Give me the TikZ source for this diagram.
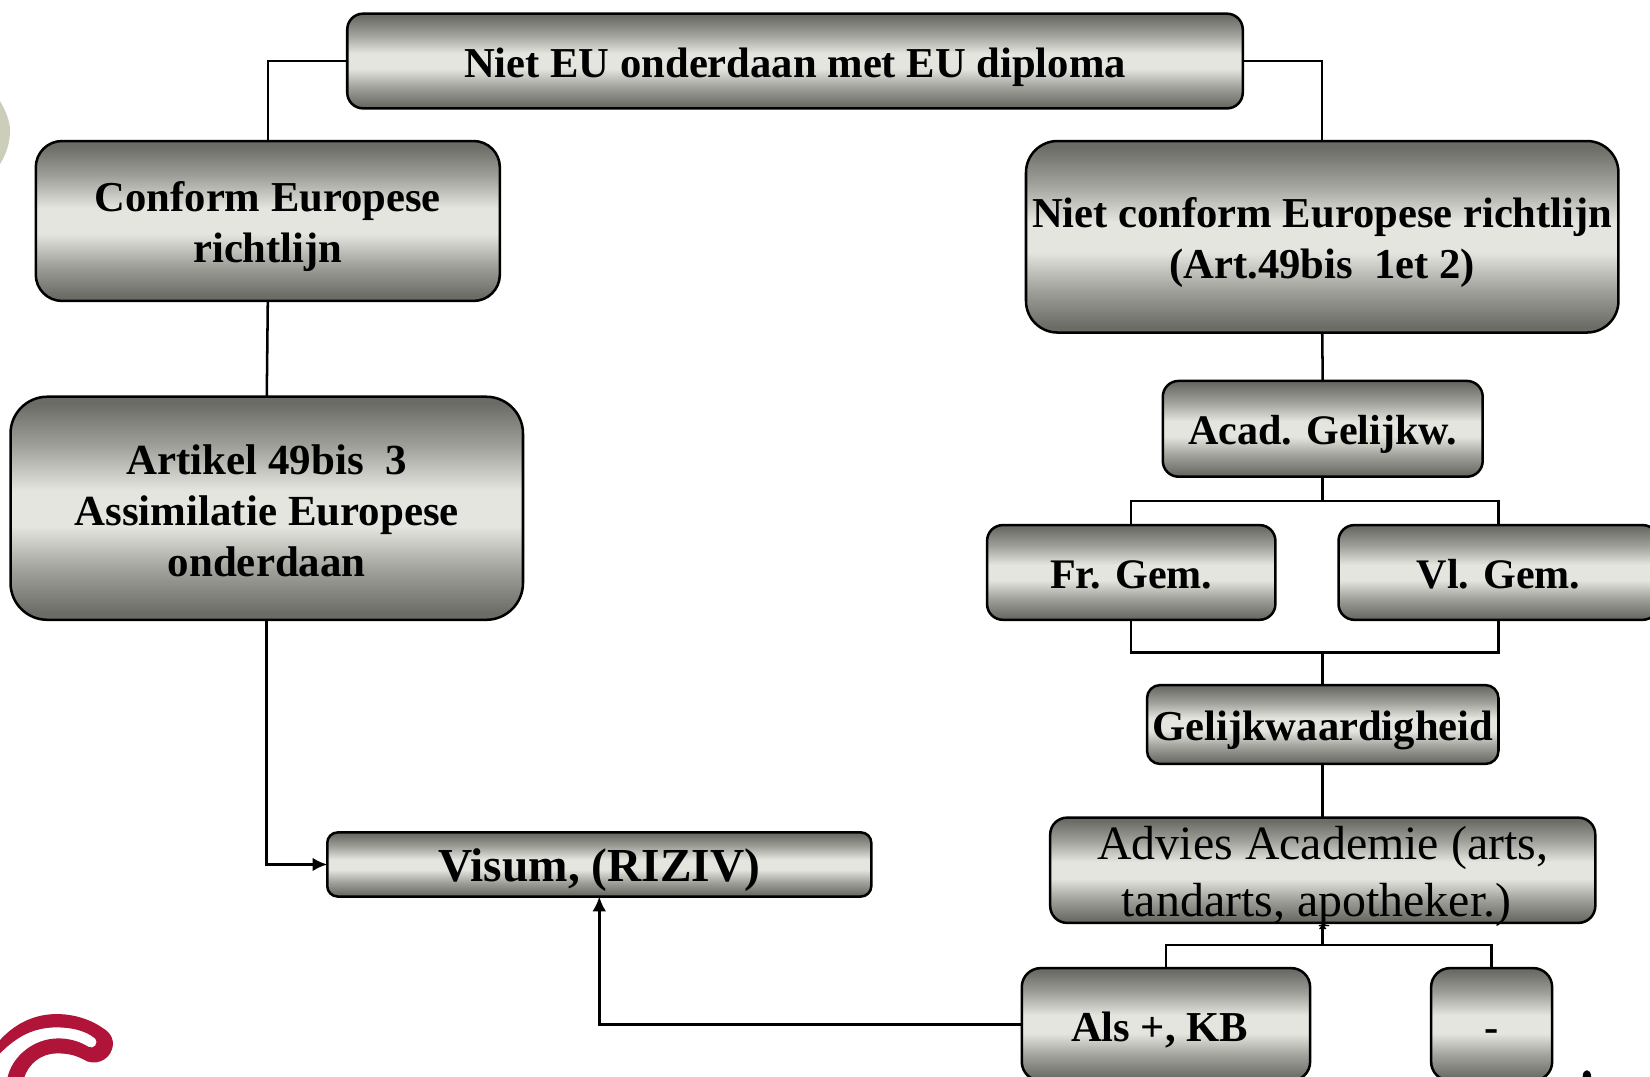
\documentclass[tikz,border=0pt]{standalone}
\usepackage{fontspec}
\setmainfont{Liberation Serif}
\usetikzlibrary{arrows.meta}
\definecolor{metalD}{RGB}{108,108,102}
\definecolor{metalM}{RGB}{160,160,154}
\definecolor{metalL}{RGB}{228,229,222}
\definecolor{logoRed}{RGB}{176,20,56}
\definecolor{logoGrey}{RGB}{205,205,188}
\pgfdeclareverticalshading{metal}{100bp}{
  color(0bp)=(metalD); color(26.5bp)=(metalD); color(36bp)=(metalM);
  color(46bp)=(metalL); color(54bp)=(metalL); color(64bp)=(metalM);
  color(73.5bp)=(metalD); color(100bp)=(metalD)}
\newcommand{\boxtext}[2]{\raisebox{-#1}[0pt][0pt]{\begin{tabular}[t]{@{}c@{}}#2\end{tabular}}}
\tikzset{
  x=1pt, y=-1pt,
  flowbox/.style n args={3}{shade, shading=metal, draw=black, line width=2.4pt,
    rectangle, rounded corners=#3, minimum width=#1, minimum height=#2,
    inner sep=0pt, outer sep=0pt, text=black},
  boldtxt/.style={font=\fontsize{40.5}{48.5}\selectfont\bfseries},
  shorttxt/.style={font=\fontsize{40}{48.5}\selectfont\bfseries},
  artxt/.style={font=\fontsize{40.8}{48.5}\selectfont\bfseries},
  plaintxt/.style={font=\fontsize{45.5}{54}\selectfont},
  visumtxt/.style={font=\fontsize{45}{52}\selectfont\bfseries},
  wire/.style={draw=black, line width=2.4pt},
  arrowwire/.style={wire, -{Latex[length=14pt,width=13pt]}},
}
\begin{document}
\begin{tikzpicture}
\useasboundingbox (0,0) rectangle (1568,1023.4);
\clip (0,0) rectangle (1568,1023.4);
\fill[white] (0,0) rectangle (1568,1023.4);
% logo fragments
\fill[logoGrey] (0,96) .. controls (7,108) and (10,118) .. (9.5,126) .. controls (9,138) and (5,148) .. (0,156) -- cycle;
\begin{scope}[shift={(0,855.3)}, x=0.3168pt, y=-0.3168pt]
\fill[logoRed] (0,420) .. controls (50,365) and (110,342) .. (170,342)
  .. controls (225,342) and (275,360) .. (310,385)
  .. controls (335,400) and (345,425) .. (335,450)
  .. controls (325,480) and (285,500) .. (250,478)
  .. controls (220,462) and (195,460) .. (170,460)
  .. controls (125,460) and (85,490) .. (72,535)
  -- (22,535) .. controls (35,470) and (100,415) .. (175,415)
  .. controls (210,415) and (240,425) .. (265,440)
  .. controls (280,450) and (298,430) .. (285,415)
  .. controls (255,390) and (210,382) .. (170,382)
  .. controls (100,382) and (50,410) .. (0,460) -- cycle;
\end{scope}
\fill[black] (1504,1023.4) .. controls (1504,1019) and (1506,1017) .. (1508,1017) .. controls (1510,1017) and (1512,1019) .. (1512,1023.4) -- cycle;
% nodes
\node[flowbox={851}{90}{15}, boldtxt] (top) at (755.5,58) {\boxtext{15.5pt}{Niet EU onderdaan met EU diploma}};
\node[flowbox={441}{152}{25}, boldtxt] (conf) at (254.5,210) {\boxtext{-9pt}{Conform Europese\\richtlijn}};
\node[flowbox={563}{182}{30}, boldtxt] (niet) at (1256.5,225) {\boxtext{-9pt}{Niet conform Europese richtlijn\\(Art.49bis\ \ 1et 2)}};
\node[flowbox={487}{212}{35}, artxt] (art) at (253.5,483) {\boxtext{-32.5pt}{Artikel 49bis\ \ 3\\Assimilatie Europese\\onderdaan}};
\node[flowbox={304}{91}{15}, shorttxt] (acad) at (1257,407.5) {\boxtext{15pt}{Acad. Gelijkw.}};
\node[flowbox={274}{90}{15}, shorttxt] (fr) at (1075,544) {\boxtext{15.5pt}{Fr. Gem.}};
\node[flowbox={304}{90}{15}, shorttxt] (vl) at (1424,544) {\boxtext{15.5pt}{Vl. Gem.}};
\node[flowbox={334}{75}{12.5}, boldtxt] (gel) at (1257,688.5) {\boxtext{15.5pt}{Gelijkwaardigheid}};
\node[flowbox={518}{100}{16}, plaintxt] (adv) at (1257,827) {\boxtext{-10pt}{Advies Academie (arts,\\tandarts, apotheker.)\kern12pt}};
\node[flowbox={517}{61}{10}, visumtxt] (vis) at (569.5,821.5) {\boxtext{16.5pt}{Visum, (RIZIV)}};
\node[flowbox={274}{107}{18}, boldtxt] (als) at (1108,973.5) {\boxtext{16pt}{Als +, KB\kern12pt}};
\node[flowbox={115}{107}{18}, boldtxt] (minus) at (1417.5,973.5) {\boxtext{16pt}{-}};
% junctions
\coordinate (splitA) at (acad.south |- 0,476);
\coordinate (splitB) at (gel.north |- 0,620);
\coordinate (splitC) at (adv.south |- 0,898);
% connectors
\draw[wire] (top.west) -| (conf.north);
\draw[wire] (top.east) -| (niet.north);
\draw[wire] (conf.south) -- (art.north);
\draw[arrowwire] (art.south) |- (vis.west);
\draw[wire] (niet.south) -- (acad.north);
\draw[wire] (acad.south) -- (splitA);
\draw[wire] (fr.north) |- (splitA) -| (vl.north);
\draw[wire] (fr.south) |- (splitB) -| (vl.south);
\draw[wire] (splitB) -- (gel.north);
\draw[wire] (gel.south) -- (adv.north);
\draw[wire] (als.north) |- (splitC) -| (minus.north);
\draw[wire, -{Latex[length=6pt,width=8pt]}] (splitC) -- (adv.south);
\draw[arrowwire] (als.west) -| (vis.south);
\end{tikzpicture}
\end{document}
